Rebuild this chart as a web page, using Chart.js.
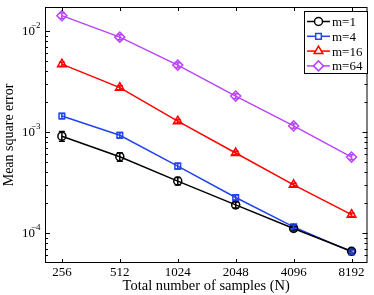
<!DOCTYPE html>
<html>
<head>
<meta charset="utf-8">
<script src="https://cdn.jsdelivr.net/npm/chart.js@4.4.1/dist/chart.umd.min.js"></script>
<style>
  html, body { margin: 0; padding: 0; background: #fff; }
  #wrap { width: 374px; height: 295px; }
</style>
</head>
<body>
<div id="wrap"><canvas id="c" width="374" height="295"></canvas></div>
<script>
// samples N
const samples = [256, 512, 1024, 2048, 4096, 8192];
const seriesNames = ["m=1", "m=4", "m=16", "m=64"];

// mean square error per series
const m1 = [9.1e-4, 5.7e-4, 3.27e-4, 1.9e-4, 1.11e-4, 6.6e-5];
const m4 = [1.44e-3, 9.3e-4, 4.6e-4, 2.25e-4, 1.15e-4, 6.5e-5];
const m16 = [4.7e-3, 2.75e-3, 1.28e-3, 6.2e-4, 3.0e-4, 1.52e-4];
const m64 = [1.42e-2, 8.7e-3, 4.6e-3, 2.27e-3, 1.15e-3, 5.65e-4];

// error bar half-heights
const m1Err = [1.0e-4, 5.5e-5, 2.8e-5, 1.3e-5, 6e-6, 3e-6];
const m4Err = [9e-5, 6e-5, 3e-5, 1.3e-5, 5e-6, 3e-6];
const m16Err = [2.2e-4, 1.3e-4, 5e-5, 2.5e-5, 1.2e-5, 6e-6];
const m64Err = [9e-4, 5e-4, 2.5e-4, 1.2e-4, 6e-5, 3e-5];

const yTickExp = [-4, -3, -2];

const FONT = "'Liberation Serif', 'DejaVu Serif', serif";
const colors = ["#000000", "#2244ee", "#ff0000", "#bb44ff"];
const markers = ["circle", "rect", "triangle", "rectRot"];
const radii = [4, 4, 5, 5];
const values = [m1, m4, m16, m64];
const errors = [m1Err, m4Err, m16Err, m64Err];

const datasets = values.map((vals, i) => ({
  label: seriesNames[i],
  data: samples.map((n, k) => ({ x: n, y: vals[k] })),
  errs: errors[i],
  borderColor: colors[i],
  backgroundColor: "rgba(0,0,0,0)",
  borderWidth: 1.5,
  pointStyle: markers[i],
  pointRadius: radii[i],
  pointBorderWidth: 1.5,
  pointBorderColor: colors[i],
  pointBackgroundColor: "rgba(0,0,0,0)",
  tension: 0,
}));

// error bars, inward ticks, box, y labels and legend
const decorations = {
  id: "decorations",
  afterDatasetsDraw(chart) {
    const ctx = chart.ctx;
    const xs = chart.scales.x, ys = chart.scales.y;
    ctx.save();
    chart.data.datasets.forEach((ds) => {
      ctx.strokeStyle = ds.borderColor;
      ctx.lineWidth = 1.5;
      ds.data.forEach((p, k) => {
        const e = ds.errs[k];
        const px = xs.getPixelForValue(p.x);
        const top = ys.getPixelForValue(p.y + e);
        const bot = ys.getPixelForValue(p.y - e);
        ctx.beginPath();
        ctx.moveTo(px, top); ctx.lineTo(px, bot);
        ctx.moveTo(px - 3, top); ctx.lineTo(px + 3, top);
        ctx.moveTo(px - 3, bot); ctx.lineTo(px + 3, bot);
        ctx.stroke();
      });
    });
    ctx.restore();
  },
  afterDraw(chart) {
    const ctx = chart.ctx;
    const a = chart.chartArea;
    const xs = chart.scales.x, ys = chart.scales.y;
    ctx.save();
    ctx.strokeStyle = "#000";
    ctx.lineWidth = 1;
    ctx.strokeRect(a.left + 0.5, a.top + 0.5, a.right - a.left - 1, a.bottom - a.top - 1);

    ctx.beginPath();
    samples.forEach((n) => {
      const px = Math.round(xs.getPixelForValue(n)) + 0.5;
      ctx.moveTo(px, a.bottom); ctx.lineTo(px, a.bottom - 4);
      ctx.moveTo(px, a.top); ctx.lineTo(px, a.top + 4);
    });
    for (let e = -5; e <= -1; e++) {
      for (let d = 1; d <= 9; d++) {
        const v = d * Math.pow(10, e);
        if (v < ys.min || v > ys.max) continue;
        const py = Math.round(ys.getPixelForValue(v)) + 0.5;
        const len = d === 1 ? 5 : 3;
        ctx.moveTo(a.left, py); ctx.lineTo(a.left + len, py);
        ctx.moveTo(a.right, py); ctx.lineTo(a.right - len, py);
      }
    }
    ctx.stroke();

    // y tick labels 10^e
    ctx.fillStyle = "#000";
    ctx.textBaseline = "middle";
    yTickExp.forEach((e) => {
      const py = ys.getPixelForValue(Math.pow(10, e));
      ctx.font = "13px " + FONT;
      ctx.textAlign = "left";
      ctx.fillText("10", 22, py + 1);
      ctx.font = "9px " + FONT;
      ctx.fillText("\u2212" + Math.abs(e), 31, py - 5);
    });

    // legend
    const lx = 304, ly = 11, lw = 63, lh = 62;
    ctx.fillStyle = "#fff";
    ctx.fillRect(lx, ly, lw, lh);
    ctx.strokeStyle = "#000";
    ctx.lineWidth = 1;
    ctx.strokeRect(lx + 0.5, ly + 0.5, lw, lh);
    chart.data.datasets.forEach((ds, i) => {
      const cy = ly + 10.5 + i * 14.8;
      ctx.strokeStyle = ds.borderColor;
      ctx.lineWidth = 1.5;
      ctx.beginPath();
      ctx.moveTo(lx + 3, cy); ctx.lineTo(lx + 26, cy);
      ctx.stroke();
      ctx.fillStyle = "#fff";
      Chart.helpers.drawPoint(ctx, {
        pointStyle: ds.pointStyle, radius: ds.pointRadius, borderWidth: 1.5, rotation: 0,
      }, lx + 14.5, cy);
      ctx.fillStyle = "#000";
      ctx.font = "13px " + FONT;
      ctx.textAlign = "left";
      ctx.textBaseline = "middle";
      ctx.fillText(ds.label, lx + 28, cy + 1);
    });
    ctx.restore();
  },
};

new Chart(document.getElementById("c"), {
  type: "line",
  data: { datasets },
  options: {
    responsive: false,
    animation: false,
    layout: { padding: { top: 7, right: 5, left: 0, bottom: 0 } },
    plugins: { legend: { display: false }, tooltip: { enabled: false } },
    scales: {
      x: {
        type: "logarithmic",
        min: 209.2,
        max: 9912,
        afterBuildTicks: (s) => { s.ticks = samples.map((v) => ({ value: v })); },
        afterFit: (s) => { s.height = 32; },
        grid: { display: false, drawTicks: false },
        border: { display: false },
        ticks: {
          autoSkip: false, maxRotation: 0, padding: 2,
          color: "#000", font: { family: FONT, size: 13 },
          callback: (v) => String(v),
        },
        title: {
          display: true, text: "Total number of samples (N)", color: "#000",
          font: { family: FONT, size: 14.5 }, padding: { top: 0, bottom: 0 },
        },
      },
      y: {
        type: "logarithmic",
        min: 5.05e-5,
        max: 0.0173,
        afterFit: (s) => { s.width = 45; },
        grid: { display: false, drawTicks: false },
        border: { display: false },
        ticks: { display: false },
        title: {
          display: true, text: "Mean square error", color: "#000",
          font: { family: FONT, size: 14 }, padding: { top: 1, bottom: 0 },
        },
      },
    },
  },
  plugins: [decorations],
});
</script>
</body>
</html>
